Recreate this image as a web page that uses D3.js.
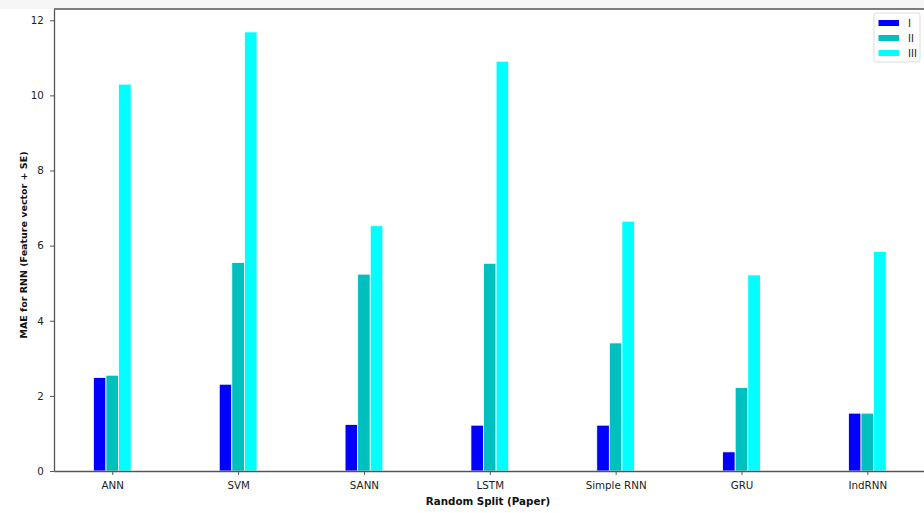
<!DOCTYPE html>
<html>
<head>
<meta charset="utf-8">
<script src="https://cdn.jsdelivr.net/npm/d3@7/dist/d3.min.js"></script>
<style>
  html, body { margin: 0; padding: 0; background: #fff; }
  svg { display: block; font-family: "DejaVu Sans", sans-serif; }
</style>
</head>
<body>
<svg id="chart" width="924" height="513"></svg>
<script>
// Models compared on the random split
const categories = ["ANN", "SVM", "SANN", "LSTM", "Simple RNN", "GRU", "IndRNN"];
const seriesNames = ["I", "II", "III"];
const seriesColors = ["#0000ff", "#00bfbf", "#00ffff"];
const valuesI   = [2.49, 2.31, 1.24, 1.22, 1.22, 0.51, 1.54];
const valuesII  = [2.55, 5.55, 5.24, 5.53, 3.41, 2.22, 1.54];
const valuesIII = [10.30, 11.69, 6.53, 10.91, 6.65, 5.22, 5.85];
const yTicks = [0, 2, 4, 6, 8, 10, 12];

const series = [valuesI, valuesII, valuesIII];

const svg = d3.select("#chart");
const plotLeft = 54, plotRight = 925.6, plotTop = 9, plotBottom = 471;
const fontSize = 10.3;

// faint band above the plot frame
svg.append("rect").attr("x", 0).attr("y", 0).attr("width", 924).attr("height", plotTop)
  .attr("fill", "#f6f6f6");

const x = d3.scalePoint().domain(categories).range([plotLeft, plotRight]).padding(0.463);
const barW = x.step() * 0.1;
const xSub = d3.scaleBand().domain(seriesNames).range([-1.5 * barW, 1.5 * barW]);
const y = d3.scaleLinear().domain([0, 12.3]).range([plotBottom, plotTop]);

// bars
const groups = svg.append("g").selectAll("g")
  .data(seriesNames)
  .join("g")
  .attr("fill", (d, i) => seriesColors[i]);

groups.selectAll("rect")
  .data((s, i) => categories.map((c, j) => ({ c, v: series[i][j], s })))
  .join("rect")
  .attr("x", d => x(d.c) + xSub(d.s))
  .attr("y", d => y(d.v))
  .attr("width", xSub.bandwidth())
  .attr("height", d => y(0) - y(d.v))
  .attr("stroke", "#ffffff")
  .attr("stroke-width", 0.8);

// axes
const xAxis = svg.append("g")
  .attr("transform", `translate(0,${plotBottom})`)
  .call(d3.axisBottom(x).tickSize(4).tickSizeOuter(0));
const yAxis = svg.append("g")
  .attr("transform", `translate(${plotLeft},0)`)
  .call(d3.axisLeft(y).tickValues(yTicks).tickFormat(d3.format("d")).tickSize(4).tickSizeOuter(0));

[xAxis, yAxis].forEach(a => {
  a.select(".domain").attr("stroke", "#555").attr("stroke-width", 1.3);
  a.selectAll(".tick line").attr("stroke", "#555");
  a.selectAll(".tick text").attr("fill", "#222").attr("font-size", fontSize)
    .attr("font-family", "DejaVu Sans, sans-serif");
});
xAxis.selectAll(".tick text").attr("dy", "1.05em");
yAxis.selectAll(".tick text").attr("dx", "-0.3em");

// top frame
svg.append("line").attr("x1", plotLeft).attr("x2", 924).attr("y1", plotTop).attr("y2", plotTop)
  .attr("stroke", "#555").attr("stroke-width", 1.3);

// axis titles
svg.append("text")
  .attr("x", 488).attr("y", 504.5)
  .attr("text-anchor", "middle").attr("font-size", fontSize).attr("font-weight", "bold")
  .attr("fill", "#111")
  .text("Random Split (Paper)");
svg.append("text")
  .attr("transform", `translate(26.5,245) rotate(-90)`)
  .attr("text-anchor", "middle").attr("font-size", 9.5).attr("font-weight", "bold")
  .attr("fill", "#111")
  .text("MAE for RNN (Feature vector + SE)");

// legend
const lg = svg.append("g").attr("transform", "translate(874,13)");
lg.append("rect").attr("width", 46).attr("height", 49).attr("rx", 2)
  .attr("fill", "#fff").attr("stroke", "#ddd");
seriesNames.forEach((n, i) => {
  const ly = 10 + i * 15;
  lg.append("rect").attr("x", 4.5).attr("y", ly - 3).attr("width", 20.5).attr("height", 6)
    .attr("fill", seriesColors[i]);
  lg.append("text").attr("x", 34).attr("y", ly + 4).attr("font-size", 10)
    .attr("fill", "#222").text(n);
});
</script>
</body>
</html>
